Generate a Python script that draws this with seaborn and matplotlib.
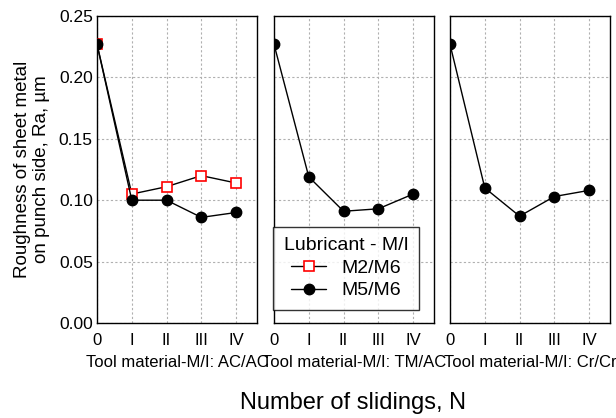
import numpy as np
import pandas as pd
import seaborn as sns
import matplotlib.pyplot as plt
from matplotlib.lines import Line2D

# data
slidings = ["0", "I", "II", "III", "IV"]
panels = ["AC/AC", "TM/AC", "Cr/Cr"]
m2_ac = [0.227, 0.105, 0.111, 0.120, 0.114]
m5_ac = [0.227, 0.100, 0.100, 0.086, 0.090]
m5_tm = [0.227, 0.119, 0.091, 0.093, 0.105]
m5_cr = [0.227, 0.110, 0.087, 0.103, 0.108]

rows = []
for panel, lub, vals in [("AC/AC", "M2/M6", m2_ac), ("AC/AC", "M5/M6", m5_ac),
                         ("TM/AC", "M5/M6", m5_tm), ("Cr/Cr", "M5/M6", m5_cr)]:
    for i, v in enumerate(vals):
        rows.append({"panel": panel, "lub": lub, "n": i, "Ra": v})
df = pd.DataFrame(rows)

sns.set_theme(style="white")
plt.rcParams['font.family'] = ['Liberation Sans', 'DejaVu Sans']
plt.rcParams.update({"text.color": "black", "axes.labelcolor": "black",
                     "xtick.color": "black", "ytick.color": "black"})

fig = plt.figure(figsize=(6.16, 4.18), dpi=100)
lefts = [97, 274, 450]
width = 160
bottom, top = 323, 16
W, H = 616, 418

styles = {"M2/M6": dict(marker="s", mfc="white", mec="red", ms=7, mew=1.2),
          "M5/M6": dict(marker="o", mfc="black", mec="black", ms=7.5, mew=1)}

axes = []
for k, panel in enumerate(panels):
    ax = fig.add_axes([lefts[k] / W, 1 - bottom / H, width / W, (bottom - top) / H])
    axes.append(ax)
    sub = df[df.panel == panel]
    for lub in ["M2/M6", "M5/M6"]:
        d = sub[sub.lub == lub]
        if len(d) == 0:
            continue
        st = styles[lub]
        sns.lineplot(data=d, x="n", y="Ra", ax=ax, color="black", lw=1.0,
                     marker=st["marker"], markersize=st["ms"],
                     markerfacecolor=st["mfc"], markeredgecolor=st["mec"],
                     markeredgewidth=st["mew"], legend=False, zorder=3)
    ax.set_xlim(0, 4.6)
    ax.set_ylim(0, 0.25)
    ax.set_xticks(range(len(slidings)))
    ax.set_xticklabels(slidings)
    ax.set_yticks(np.arange(0, 0.26, 0.05))
    ax.grid(True, color="#b0b0b0", ls=(0, (2, 2)), lw=0.8)
    for s in ax.spines.values():
        s.set_color("black")
        s.set_linewidth(1.0)
    ax.tick_params(axis="x", labelsize=12, length=0, pad=7)
    ax.tick_params(axis="y", labelsize=12.5, length=0, pad=3)
    if k > 0:
        ax.set_yticklabels([])
    ax.set_ylabel("")
    ax.set_xlabel("Tool material-M/I: " + panel, fontsize=12, labelpad=5)

axes[0].set_yticklabels([f"{v:.2f}" for v in np.arange(0, 0.26, 0.05)])
axes[0].set_ylabel("Roughness of sheet metal\non punch side, Ra, µm", fontsize=13.5, labelpad=6)

handles = [Line2D([], [], color="black", lw=1.0, marker="s", ms=7, mfc="white", mec="red", mew=1.2),
           Line2D([], [], color="black", lw=1.0, marker="o", ms=7.5, mfc="black", mec="black")]
leg = axes[1].legend(handles, ["M2/M6", "M5/M6"], title="Lubricant - M/I",
                     loc="lower left", bbox_to_anchor=(-0.006, 0.042), fontsize=14,
                     title_fontsize=14, frameon=True, fancybox=False,
                     handlelength=1.8, handletextpad=0.8, borderpad=0.55,
                     labelspacing=0.25, borderaxespad=0)
leg.get_frame().set_edgecolor("black")
leg.get_frame().set_linewidth(1.0)
leg.set_zorder(5)

fig.text(0.5 * (97 + 608) / W, 1 - 403 / H, "Number of slidings, N", ha="center",
         va="center", fontsize=17)

fig.savefig("out.png", dpi=100)
